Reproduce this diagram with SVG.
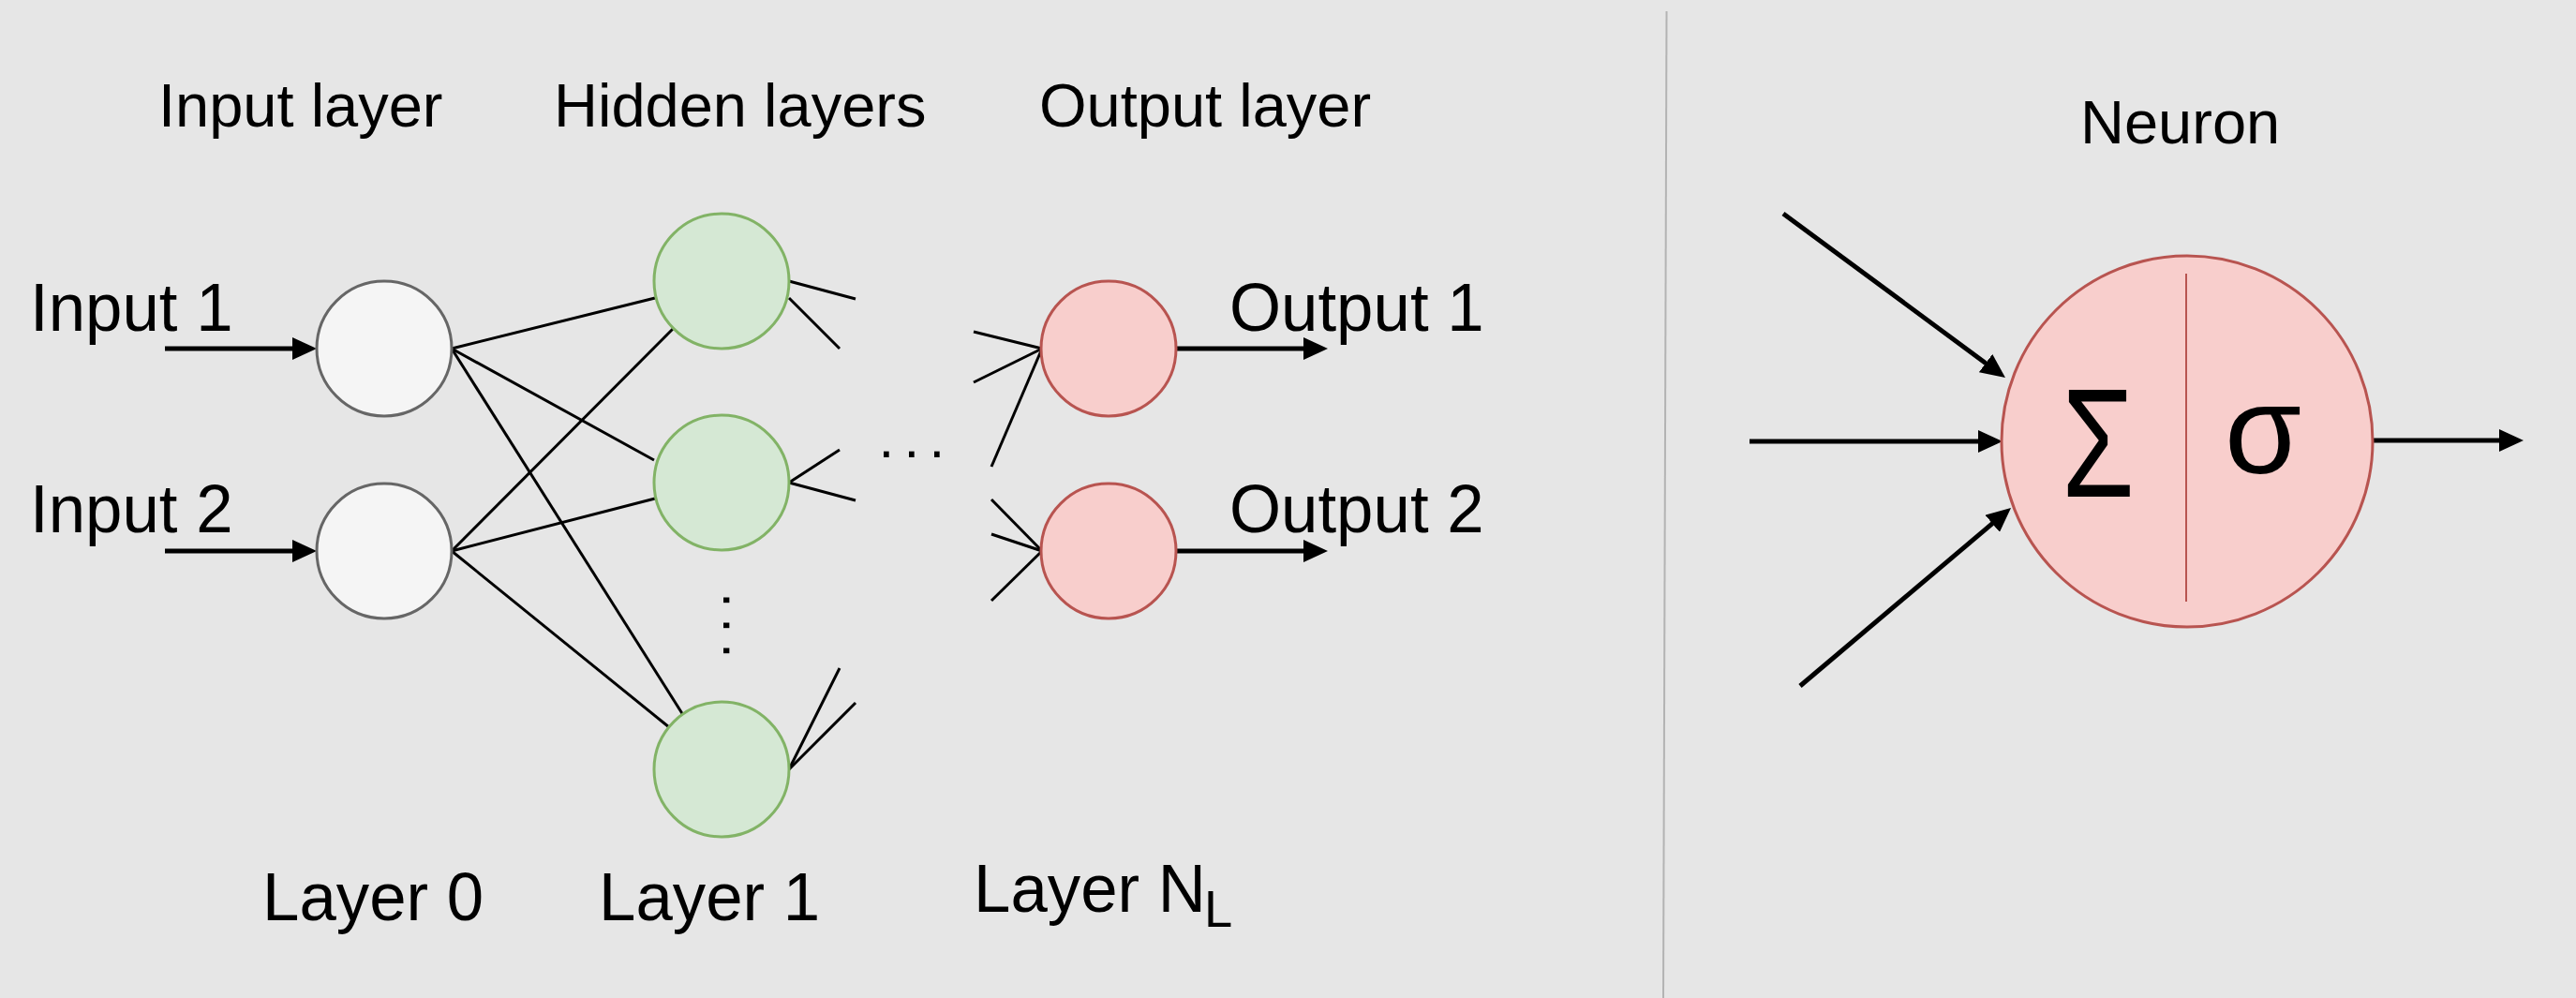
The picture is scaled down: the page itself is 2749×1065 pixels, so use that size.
<svg xmlns="http://www.w3.org/2000/svg" width="2749" height="1065" viewBox="0 0 2749 1065">
<style>
text { font-family: "Liberation Sans", Arial, sans-serif; fill: #000; }
.hdr { font-size: 65px; }
.lbl { font-size: 73px; }
.inp { fill: #f5f5f5; stroke: #666666; stroke-width: 3; }
.hid { fill: #d5e8d4; stroke: #82b366; stroke-width: 3; }
.out { fill: #f8cecc; stroke: #b85450; stroke-width: 3; }
.edge { stroke: #000; stroke-width: 3; fill: none; }
.arr { stroke: #000; stroke-width: 5; fill: none; marker-end: url(#ah); }
</style>
<defs>
<marker id="ah" markerUnits="userSpaceOnUse" markerWidth="26" markerHeight="24" refX="4" refY="12" orient="auto" viewBox="0 0 26 24">
<path d="M0,0 L26,12 L0,24 z" fill="#000"/>
</marker>
</defs>
<rect x="0" y="0" width="2749" height="1065" fill="#e6e6e6"/>
<line x1="1778.5" y1="12" x2="1775" y2="1065" stroke="#b3b3b3" stroke-width="2"/>

<g id="headers">
<text class="hdr" x="169" y="135">Input layer</text>
<text class="hdr" x="591" y="135">Hidden layers</text>
<text class="hdr" x="1109" y="135">Output layer</text>
<text class="hdr" x="2220" y="153">Neuron</text>
</g>

<g id="labels">
<text class="lbl" transform="translate(32,353) scale(0.97,1)">Input 1</text>
<text class="lbl" transform="translate(32,568) scale(0.97,1)">Input 2</text>
<text class="lbl" transform="translate(1312,353) scale(0.97,1)">Output 1</text>
<text class="lbl" transform="translate(1312,568) scale(0.97,1)">Output 2</text>
<text class="lbl" transform="translate(280,982) scale(0.97,1)">Layer 0</text>
<text class="lbl" transform="translate(639,982) scale(0.97,1)">Layer 1</text>
<text class="lbl" transform="translate(1039,973) scale(0.97,1)">Layer N<tspan font-size="56" dy="16" dx="-2">L</tspan></text>
</g>

<g id="connectors">
<line class="arr" x1="176" y1="372" x2="316" y2="372"/>
<line class="arr" x1="176" y1="588" x2="316" y2="588"/>
<line class="arr" x1="1255" y1="372" x2="1395" y2="372"/>
<line class="arr" x1="1255" y1="588" x2="1395" y2="588"/>

<line class="edge" x1="482" y1="372" x2="699" y2="318"/>
<line class="edge" x1="482" y1="372" x2="698" y2="491"/>
<line class="edge" x1="482" y1="372" x2="729" y2="763"/>
<line class="edge" x1="482" y1="588" x2="718" y2="351"/>
<line class="edge" x1="482" y1="588" x2="699" y2="532"/>
<line class="edge" x1="482" y1="588" x2="714" y2="776"/>

<line class="edge" x1="842" y1="300" x2="913" y2="319"/>
<line class="edge" x1="842" y1="318" x2="896" y2="372"/>
<line class="edge" x1="842" y1="515" x2="896" y2="480"/>
<line class="edge" x1="842" y1="515" x2="913" y2="534"/>
<line class="edge" x1="842" y1="821" x2="896" y2="713"/>
<line class="edge" x1="842" y1="821" x2="913" y2="750"/>

<line class="edge" x1="1039" y1="354" x2="1112" y2="372"/>
<line class="edge" x1="1039" y1="408" x2="1112" y2="372"/>
<line class="edge" x1="1058" y1="498" x2="1112" y2="372"/>
<line class="edge" x1="1058" y1="533" x2="1112" y2="588"/>
<line class="edge" x1="1058" y1="570" x2="1112" y2="588"/>
<line class="edge" x1="1058" y1="641" x2="1112" y2="588"/>

<line class="arr" x1="1903" y1="228" x2="2122.3" y2="389.9"/>
<line class="arr" x1="1867" y1="471" x2="2115" y2="471"/>
<line class="arr" x1="1921" y1="732" x2="2129.2" y2="556.2"/>
<line class="arr" x1="2532" y1="470" x2="2671" y2="470"/>
</g>

<g id="input1"><circle class="inp" cx="410" cy="372" r="72"/></g>
<g id="input2"><circle class="inp" cx="410" cy="588" r="72"/></g>
<g id="hidden1"><circle class="hid" cx="770" cy="300" r="72"/></g>
<g id="hidden2"><circle class="hid" cx="770" cy="515" r="72"/></g>
<g id="hidden3"><circle class="hid" cx="770" cy="821" r="72"/></g>
<g id="output1"><circle class="out" cx="1183" cy="372" r="72"/></g>
<g id="output2"><circle class="out" cx="1183" cy="588" r="72"/></g>

<g id="dots">
<text x="937.5" y="488" font-size="60" letter-spacing="10.3">...</text>
<text transform="translate(774,632) rotate(90)" x="0" y="2.5" font-size="60" letter-spacing="10.3">...</text>
</g>

<g id="neuron">
<circle class="out" cx="2334" cy="471" r="198"/>
<line x1="2333" y1="292" x2="2333" y2="642" stroke="#b85450" stroke-width="2"/>
<text transform="translate(2239,530) scale(0.76,1)" text-anchor="middle" font-size="165">Σ</text>
<text x="2415" y="505" text-anchor="middle" font-size="133">σ</text>
</g>
</svg>
